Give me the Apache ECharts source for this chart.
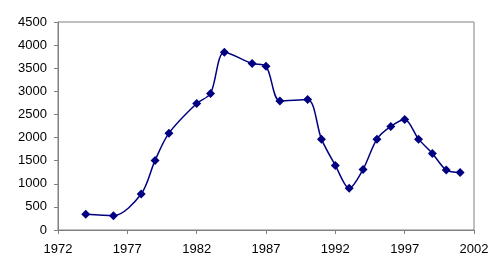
<!DOCTYPE html>
<html>
<head>
<meta charset="utf-8">
<script src="https://cdn.jsdelivr.net/npm/echarts@6/dist/echarts.min.js"></script>
<style>html,body{margin:0;padding:0;background:#fff}#c{width:500px;height:275px}</style>
</head>
<body>
<div id="c"></div>
<script>
const years = [1974,1976,1978,1979,1980,1982,1983,1984,1986,1987,1988,1990,1991,1992,1993,1994,1995,1996,1997,1998,1999,2000,2001];
const values = [339,309,778,1506,2095,2737,2953,3845,3601,3543,2793,2824,1966,1398,901,1311,1966,2240,2391,1966,1657,1296,1246];

const chart = echarts.init(document.getElementById('c'), null, {renderer:'canvas'});
const font = 'Liberation Sans, Arial, sans-serif';
chart.setOption({
  animation:false,
  backgroundColor:'#fff',
  grid:{left:58,top:22,right:26,bottom:45,show:true,borderColor:'#808080',borderWidth:1,backgroundColor:'transparent'},
  xAxis:{type:'value',min:1972,max:2002,interval:5,
    axisLine:{show:true,onZero:false,lineStyle:{color:'#808080',width:1}},
    axisTick:{show:true,inside:false,length:4,lineStyle:{color:'#808080'}},
    axisLabel:{color:'#000',fontFamily:font,fontSize:13,margin:13,formatter:v=>String(v)},
    splitLine:{show:false}},
  yAxis:{type:'value',min:0,max:4500,interval:500,
    axisLine:{show:true,lineStyle:{color:'#808080',width:1}},
    axisTick:{show:true,inside:false,length:4,lineStyle:{color:'#808080'}},
    axisLabel:{color:'#000',fontFamily:font,fontSize:13,margin:11,formatter:v=>String(v)},
    splitLine:{show:false}},
  series:[{type:'line',data:years.map((y,i)=>[y,values[i]]),smooth:0.3,
    symbol:'diamond',symbolSize:9,
    itemStyle:{color:'#000080'},
    lineStyle:{color:'#000080',width:1.5}}]
});
</script>
</body>
</html>
